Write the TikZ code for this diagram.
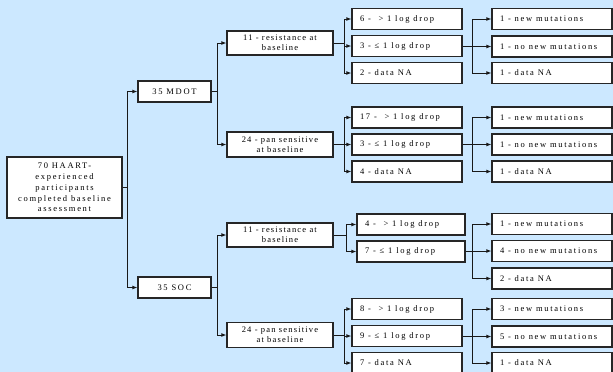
\documentclass[tikz,border=0pt]{standalone}
\usepackage{fontspec}
\setmainfont{Liberation Serif}
\newfontfamily\lspR[LetterSpace=20]{Liberation Serif}
\newfontfamily\lspO[LetterSpace=20]{Liberation Serif}
\newfontfamily\lspM[LetterSpace=14]{Liberation Serif}
\newfontfamily\lspL[LetterSpace=20]{Liberation Serif}
\newcommand\fntR{\lspR\fontsize{8.5}{10.8}\selectfont}
\newcommand\fntO{\lspO\fontsize{8.5}{10}\selectfont}
\newcommand\fntM{\lspM\fontsize{8.5}{10}\selectfont}
\newcommand\fntL{\lspL\fontsize{8.5}{10}\selectfont}
\newcommand\lt[2][94pt]{\makebox[#1][l]{#2}}
\usetikzlibrary{arrows.meta}
\definecolor{bg}{RGB}{204,232,255}
\begin{document}
\begin{tikzpicture}[x=1pt,y=-1pt,
 box/.style={draw=black!85, line width=1.3pt, fill=white, inner sep=0pt},
 cbox/.style={box, align=center, font=\fntM},
 lthree/.style={box, minimum width=110pt, minimum height=21pt, inner xsep=8pt, font=\fntL},
 lfour/.style={lthree, minimum width=120pt},
 conn/.style={line width=0.9pt, draw=black!90},
 arr/.style={conn, -{Latex[length=5pt,width=4pt]}}]
\fill[bg] (0,0) rectangle (613,372);
\useasboundingbox (0,0) rectangle (613,372);

% level 0
\node[cbox, minimum width=115pt, minimum height=61pt, font=\fntR] (root) at (64.5,187.5)
  {70 HAART-\\experienced\\participants\\completed baseline\\assessment};
% level 1
\node[cbox, minimum width=73pt, minimum height=21pt, font=\fntO] (mdot) at (174.5,91.5) {35 MDOT};
\node[cbox, minimum width=73pt, minimum height=21pt, font=\fntO] (soc) at (174.5,287.5) {35 SOC};
% level 2
\node[cbox, minimum width=106pt, minimum height=24pt] (m11) at (280,43) {11 - resistance at\\baseline};
\node[cbox, minimum width=106pt, minimum height=25pt] (m24) at (280,144.5) {24 - pan sensitive\\at baseline};
\node[cbox, minimum width=106pt, minimum height=24pt] (s11) at (280,235) {11 - resistance at\\baseline};
\node[cbox, minimum width=106pt, minimum height=25pt] (s24) at (280,335) {24 - pan sensitive\\at baseline};
% level 3
\node[lthree] (ma1) at (407,19) {\lt{6 - \ > 1 log drop}};
\node[lthree] (ma2) at (407,46) {\lt{3 - ≤ 1 log drop}};
\node[lthree] (ma3) at (407,73) {\lt{2 - data NA}};
\node[lthree] (mb1) at (407,117.5) {\lt{17 - \ > 1 log drop}};
\node[lthree] (mb2) at (407,144.5) {\lt{3 - ≤ 1 log drop}};
\node[lthree] (mb3) at (407,171.5) {\lt{4 - data NA}};
\node[lthree, minimum width=108pt] (sa1) at (411,224.5) {\lt[92pt]{4 - \ > 1 log drop}};
\node[lthree, minimum width=108pt] (sa2) at (411,251.5) {\lt[92pt]{7 - ≤ 1 log drop}};
\node[lthree] (sb1) at (407,309) {\lt{8 - \ > 1 log drop}};
\node[lthree] (sb2) at (407,336) {\lt{9 - ≤ 1 log drop}};
\node[lthree] (sb3) at (407,363) {\lt{7 - data NA}};
% level 4
\node[lfour] (ma2a) at (552,19) {\lt[104pt]{1 - new mutations}};
\node[lfour] (ma2b) at (552,46.5) {\lt[104pt]{1 - no new mutations}};
\node[lfour] (ma2c) at (552,73) {\lt[104pt]{1 - data NA}};
\node[lfour] (mb2a) at (552,117.5) {\lt[104pt]{1 - new mutations}};
\node[lfour] (mb2b) at (552,144.5) {\lt[104pt]{1 - no new mutations}};
\node[lfour] (mb2c) at (552,171.5) {\lt[104pt]{1 - data NA}};
\node[lfour] (sa2a) at (552,224) {\lt[104pt]{1 - new mutations}};
\node[lfour] (sa2b) at (552,251) {\lt[104pt]{4 - no new mutations}};
\node[lfour] (sa2c) at (552,278.5) {\lt[104pt]{2 - data NA}};
\node[lfour] (sb2a) at (552,309) {\lt[104pt]{3 - new mutations}};
\node[lfour] (sb2b) at (552,336.5) {\lt[104pt]{5 - no new mutations}};
\node[lfour] (sb2c) at (552,363) {\lt[104pt]{1 - data NA}};

% junctions
\coordinate (j0) at (127,187.5);
\coordinate (jm) at (217,91.5);
\coordinate (js) at (217,287.5);
\coordinate (jm11) at (344,43);
\coordinate (jm24) at (344,144.5);
\coordinate (js11) at (346,235);
\coordinate (js24) at (344,335);
\coordinate (jma) at (472,46);
\coordinate (jmb) at (472,144.5);
\coordinate (jsa) at (472,251.5);
\coordinate (jsb) at (472,336);

% connectors
\draw[conn] (root.east) -- (j0);
\draw[arr] (j0) |- (mdot.west);
\draw[arr] (j0) |- (soc.west);

\draw[conn] (mdot.east) -- (jm);
\draw[arr] (jm) |- (m11.west);
\draw[arr] (jm) |- (m24.west);
\draw[conn] (soc.east) -- (js);
\draw[arr] (js) |- (s11.west);
\draw[arr] (js) |- (s24.west);

\draw[conn] (m11.east) -- (jm11);
\foreach \c in {ma1,ma2,ma3} \draw[arr] (jm11) |- (\c.west);
\draw[conn] (m24.east) -- (jm24);
\foreach \c in {mb1,mb2,mb3} \draw[arr] (jm24) |- (\c.west);
\draw[conn] (s11.east) -- (js11);
\foreach \c in {sa1,sa2} \draw[arr] (js11) |- (\c.west);
\draw[conn] (s24.east) -- (js24);
\foreach \c in {sb1,sb2,sb3} \draw[arr] (js24) |- (\c.west);

\draw[conn] (ma2.east) -- (jma);
\foreach \c in {ma2a,ma2b,ma2c} \draw[arr] (jma) |- (\c.west);
\draw[conn] (mb2.east) -- (jmb);
\foreach \c in {mb2a,mb2b,mb2c} \draw[arr] (jmb) |- (\c.west);
\draw[conn] (sa2.east) -- (jsa);
\foreach \c in {sa2a,sa2b,sa2c} \draw[arr] (jsa) |- (\c.west);
\draw[conn] (sb2.east) -- (jsb);
\foreach \c in {sb2a,sb2b,sb2c} \draw[arr] (jsb) |- (\c.west);
\end{tikzpicture}
\end{document}
